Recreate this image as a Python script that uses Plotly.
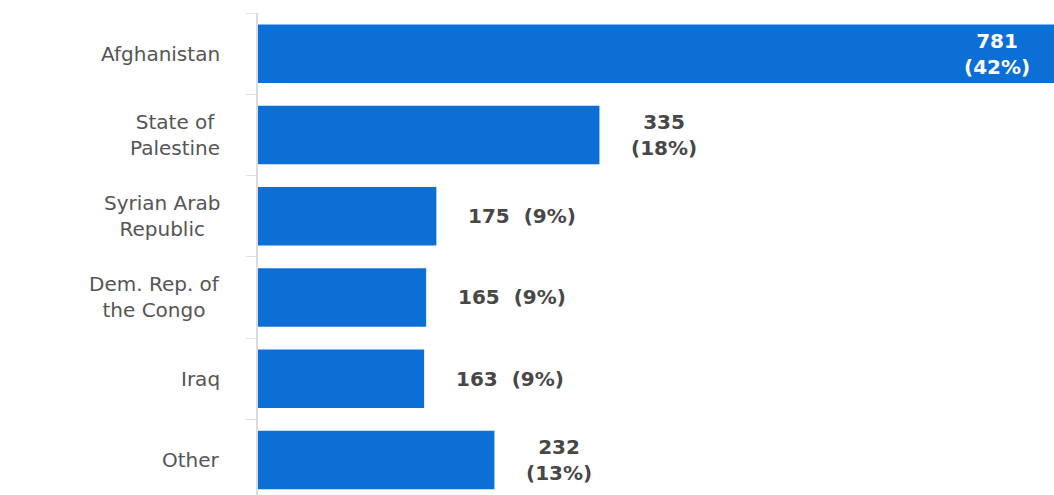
import plotly.graph_objects as go

categories = ["Afghanistan", "State of<br>Palestine", "Syrian Arab<br>Republic",
              "Dem. Rep. of<br>the Congo", "Iraq", "Other"]
values = [781, 335, 175, 165, 163, 232]
percents = [42, 18, 9, 9, 9, 13]
two_line = [True, True, False, False, False, True]
inside = [True, False, False, False, False, False]

BLUE = "#0b6fd6"
FONT = "DejaVu Sans"

fig = go.Figure(go.Bar(
    x=values, y=categories, orientation="h",
    marker=dict(color=BLUE, line=dict(width=0)),
    hoverinfo="skip",
))

for cat, v, p, tl, ins in zip(categories, values, percents, two_line, inside):
    sep = "<br>" if tl else "  "
    txt = f"{v}{sep}({p}%)"
    fig.add_annotation(
        x=v, y=cat, xref="x", yref="y", text=txt, showarrow=False,
        xanchor="right" if ins else "left",
        xshift=-22 if ins else 30,
        align="center",
        font=dict(family=FONT, size=20, color="white" if ins else "#474747", weight=600),
    )
    # category label, centred multi-line, right edge ~36px left of the axis
    fig.add_annotation(
        x=0, y=cat, xref="x", yref="y", text=cat, showarrow=False,
        xanchor="right", xshift=-36, align="center",
        font=dict(family=FONT, size=20, color="#555555"),
    )

fig.update_layout(
    width=1054, height=495,
    margin=dict(l=258, r=0, t=13, b=0),
    paper_bgcolor="white", plot_bgcolor="white",
    bargap=0.28, showlegend=False,
    font=dict(family=FONT, size=18, color="#555555"),
)
fig.update_xaxes(range=[0, 781], visible=False, showgrid=False, zeroline=False)
fig.update_yaxes(
    range=[5.43, -0.5], type="category",
    showline=True, linecolor="#dcdcdc", linewidth=1.5,
    ticks="outside", tickson="boundaries", ticklen=10, tickcolor="#e8ddd8", tickwidth=1,
    showticklabels=False, showgrid=False, zeroline=False,
)

fig.write_html("out.html")
